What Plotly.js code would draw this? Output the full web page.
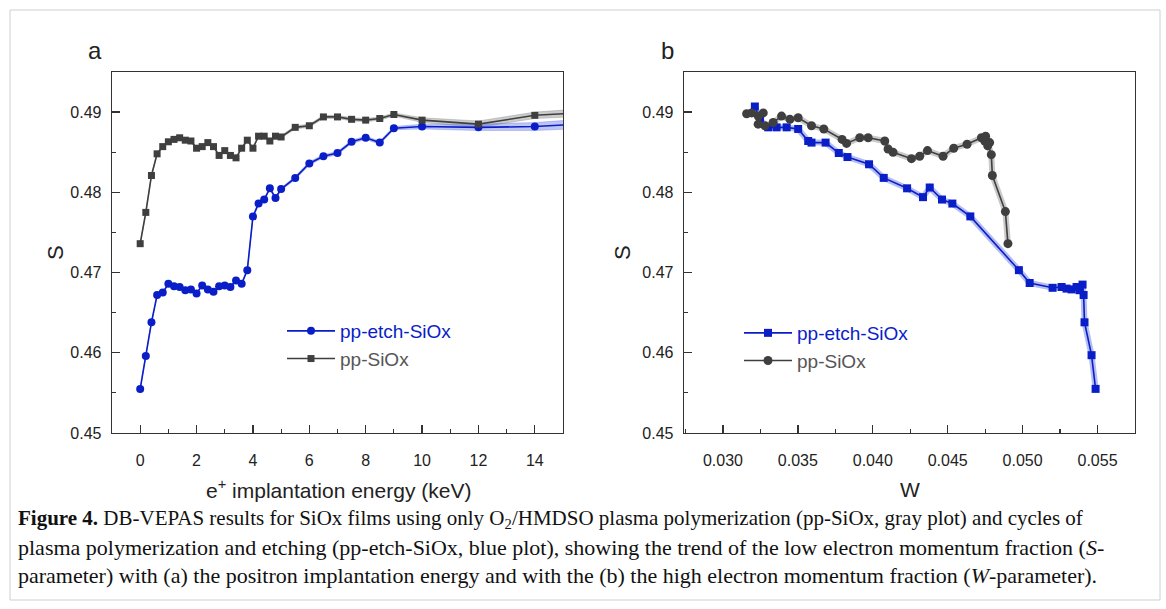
<!DOCTYPE html>
<html><head><meta charset="utf-8">
<script src="https://cdn.plot.ly/plotly-3.0.1.min.js"></script>
<style>html,body{margin:0;padding:0;background:#fff;} #chart{width:1166px;height:609px;}</style>
</head><body><div id="chart"></div>
<script>
// ---------- Panel a: S vs positron implantation energy ----------
const energy = [0,0.2,0.4,0.6,0.8,1.0,1.2,1.4,1.6,1.8,2.0,2.2,2.4,2.6,2.8,3.0,3.2,3.4,3.6,3.8,4.0,4.2,4.4,4.6,4.8,5.0,5.5,6,6.5,7,7.5,8,8.5,9,10,12,14,16];
const S_etch_a = [0.4555,0.4596,0.4638,0.4672,0.4675,0.4686,0.4683,0.4682,0.4678,0.4679,0.4674,0.4684,0.4679,0.4676,0.4683,0.4684,0.4682,0.4690,0.4686,0.4703,0.4770,0.4786,0.4791,0.4805,0.4793,0.4804,0.4818,0.4836,0.4845,0.4849,0.4863,0.4868,0.4862,0.4880,0.4882,0.4881,0.4882,0.4886];
const err_etch_a = [0.0001,0.0001,0.0001,0.0001,0.0001,0.0001,0.0001,0.0001,0.0001,0.0001,0.0001,0.0001,0.0001,0.0001,0.0001,0.0001,0.0001,0.0001,0.0001,0.0001,0.00015,0.00015,0.00015,0.00015,0.00015,0.00015,0.0002,0.0002,0.0002,0.0002,0.0002,0.0002,0.0002,0.0002,0.0003,0.0004,0.0005,0.0006];
const S_pp_a = [0.4736,0.4775,0.4821,0.4848,0.4857,0.4863,0.4866,0.4868,0.4865,0.4864,0.4855,0.4857,0.4862,0.4857,0.4846,0.4852,0.4846,0.4843,0.4855,0.4865,0.4855,0.4870,0.4870,0.4864,0.4870,0.4869,0.4881,0.4883,0.4894,0.4894,0.4891,0.4890,0.4892,0.4897,0.4890,0.4885,0.4896,0.4900];
const err_pp_a = [0.0001,0.0001,0.0001,0.0001,0.0001,0.0001,0.0001,0.0001,0.0001,0.0001,0.0001,0.0001,0.0001,0.0001,0.0001,0.0001,0.0001,0.0001,0.0001,0.0001,0.0001,0.0001,0.0001,0.00015,0.00015,0.00015,0.0002,0.0002,0.0002,0.0002,0.0002,0.0002,0.0002,0.0002,0.0003,0.0004,0.0004,0.0005];

// ---------- Panel b: S vs W ----------
const W_etch = [0.03213,0.03247,0.03302,0.03358,0.03425,0.03502,0.03569,0.03591,0.03685,0.03773,0.03831,0.03975,0.04073,0.04229,0.04335,0.04380,0.04462,0.04531,0.04651,0.04975,0.05047,0.05200,0.05260,0.05293,0.05327,0.05360,0.05380,0.05400,0.05407,0.05413,0.05460,0.05487];
const S_etch_b = [0.4907,0.4891,0.4881,0.4881,0.4881,0.4879,0.4864,0.4862,0.4862,0.4849,0.4844,0.4835,0.4818,0.4805,0.4794,0.4806,0.4791,0.4786,0.4770,0.4703,0.4687,0.4681,0.4682,0.4680,0.4679,0.4682,0.4678,0.4685,0.4672,0.4638,0.4597,0.4555];
const W_pp = [0.03158,0.03191,0.03235,0.03269,0.03235,0.03280,0.03335,0.03391,0.03447,0.03502,0.03591,0.03673,0.03795,0.03825,0.03913,0.03969,0.04080,0.04102,0.04135,0.04258,0.04313,0.04365,0.04469,0.04540,0.04629,0.04725,0.04747,0.04767,0.04780,0.04753,0.04791,0.04798,0.04885,0.04902];
const S_pp_b = [0.4898,0.4899,0.4895,0.4899,0.4885,0.4883,0.4887,0.4895,0.4891,0.4893,0.4883,0.4879,0.4866,0.4861,0.4868,0.4868,0.4864,0.4854,0.4850,0.4842,0.4845,0.4852,0.4845,0.4855,0.4860,0.4868,0.4864,0.4858,0.4862,0.4870,0.4847,0.4821,0.4776,0.4736];

const xTicksA = [0,2,4,6,8,10,12,14];
const xTickLabelsA = ['0','2','4','6','8','10','12','14'];
const xTicksB = [0.030,0.035,0.040,0.045,0.050,0.055];
const xTickLabelsB = ['0.030','0.035','0.040','0.045','0.050','0.055'];
const yTicks = [0.45,0.46,0.47,0.48,0.49];
const yTickLabels = ['0.45','0.46','0.47','0.48','0.49'];

const nameEtch = 'pp-etch-SiOx';
const namePp = 'pp-SiOx';

// ---------- styles ----------
const BLUE = '#0a1ec8';
const GRAY = '#3f3f3f';
const BLUE_BAND = 'rgba(70,90,225,0.35)';
const GRAY_BAND = 'rgba(110,110,110,0.35)';
const FONT = 'Liberation Sans, Arial, sans-serif';
const SERIF = 'Liberation Serif, Times New Roman, serif';
const W_FIG = 1166, H_FIG = 609;
const px = v => v / W_FIG;
const py = v => 1 - v / H_FIG;

function band(x, y, e, xa, ya, color) {
  const up = y.map((v, i) => v + e[i]);
  const lo = y.map((v, i) => v - e[i]);
  return {
    x: x.concat(x.slice().reverse()), y: up.concat(lo.reverse()),
    xaxis: xa, yaxis: ya, type: 'scatter', mode: 'lines', fill: 'toself',
    fillcolor: color, line: {color: color, width: 0.8}, hoverinfo: 'skip', showlegend: false
  };
}

const traces = [
  band(energy, S_pp_a, err_pp_a, 'x', 'y', GRAY_BAND),
  band(energy, S_etch_a, err_etch_a, 'x', 'y', BLUE_BAND),
  {x: W_pp, y: S_pp_b, xaxis: 'x2', yaxis: 'y2', type: 'scatter', mode: 'lines',
   line: {color: 'rgba(120,120,120,0.4)', width: 6}, hoverinfo: 'skip', showlegend: false},
  {x: W_etch, y: S_etch_b, xaxis: 'x2', yaxis: 'y2', type: 'scatter', mode: 'lines',
   line: {color: 'rgba(70,90,225,0.4)', width: 6}, hoverinfo: 'skip', showlegend: false},
  {x: energy, y: S_etch_a, xaxis: 'x', yaxis: 'y', type: 'scatter', mode: 'lines+markers',
   name: '<span style="color:' + BLUE + '">' + nameEtch + '</span>',
   line: {color: BLUE, width: 1.6}, marker: {symbol: 'circle', size: 8, color: BLUE}, legend: 'legend'},
  {x: energy, y: S_pp_a, xaxis: 'x', yaxis: 'y', type: 'scatter', mode: 'lines+markers',
   name: '<span style="color:#555">' + namePp + '</span>',
   line: {color: GRAY, width: 1.6}, marker: {symbol: 'square', size: 7, color: GRAY}, legend: 'legend'},
  {x: W_etch, y: S_etch_b, xaxis: 'x2', yaxis: 'y2', type: 'scatter', mode: 'lines+markers',
   name: '<span style="color:' + BLUE + '">' + nameEtch + '</span>',
   line: {color: BLUE, width: 1.6}, marker: {symbol: 'square', size: 8, color: BLUE}, legend: 'legend2'},
  {x: W_pp, y: S_pp_b, xaxis: 'x2', yaxis: 'y2', type: 'scatter', mode: 'lines+markers',
   name: '<span style="color:#555">' + namePp + '</span>',
   line: {color: GRAY, width: 1.6}, marker: {symbol: 'circle', size: 9, color: GRAY}, legend: 'legend2'}
];

const axisCommon = {
  showline: true, linecolor: '#333', linewidth: 1.3, mirror: true,
  ticks: 'inside', ticklen: 8, tickwidth: 1.3, tickcolor: '#333',
  showgrid: false, zeroline: false,
  tickfont: {family: FONT, size: 16, color: '#222'}, ticklabelstandoff: 6
};
const minorTick = {ticks: 'inside', ticklen: 4, tickcolor: '#333', tickwidth: 1.2};

function ann(text, x, y, size, extra) {
  return Object.assign({text: text, x: px(x), y: py(y), xref: 'paper', yref: 'paper',
    xanchor: 'center', yanchor: 'middle', showarrow: false,
    font: {family: FONT, size: size, color: '#222'}}, extra || {});
}
function cap(text, y, size) {
  return {text: text, x: px(16), y: py(y), xref: 'paper', yref: 'paper', xanchor: 'left', yanchor: 'middle',
    showarrow: false, align: 'left', font: {family: SERIF, size: size, color: '#111'}};
}

const layout = {
  width: W_FIG, height: H_FIG,
  margin: {l: 0, r: 0, t: 0, b: 0},
  paper_bgcolor: '#fff', plot_bgcolor: '#fff',
  font: {family: FONT},
  showlegend: true,
  xaxis: Object.assign({}, axisCommon, {domain: [px(112), px(563)], range: [-1, 15],
    tickvals: xTicksA, ticktext: xTickLabelsA, anchor: 'y', ticklabelstandoff: 12,
    minor: Object.assign({dtick: 1, tick0: 0}, minorTick)}),
  yaxis: Object.assign({}, axisCommon, {domain: [py(433), py(72)], range: [0.45, 0.495],
    tickvals: yTicks, ticktext: yTickLabels, anchor: 'x',
    minor: Object.assign({dtick: 0.005, tick0: 0.45}, minorTick)}),
  xaxis2: Object.assign({}, axisCommon, {domain: [px(684), px(1135)], range: [0.0274, 0.0575],
    tickvals: xTicksB, ticktext: xTickLabelsB, anchor: 'y2', ticklabelstandoff: 12,
    minor: Object.assign({dtick: 0.0025, tick0: 0.03}, minorTick)}),
  yaxis2: Object.assign({}, axisCommon, {domain: [py(433), py(72)], range: [0.45, 0.495],
    tickvals: yTicks, ticktext: yTickLabels, anchor: 'x2',
    minor: Object.assign({dtick: 0.005, tick0: 0.45}, minorTick)}),
  legend: {x: px(282), y: py(312), xanchor: 'left', yanchor: 'top', bgcolor: 'rgba(0,0,0,0)',
    font: {family: FONT, size: 19}, itemwidth: 48, tracegroupgap: 0, traceorder: 'normal'},
  legend2: {x: px(739), y: py(314), xanchor: 'left', yanchor: 'top', bgcolor: 'rgba(0,0,0,0)',
    font: {family: FONT, size: 19}, itemwidth: 48, tracegroupgap: 0, traceorder: 'normal'},
  shapes: [
    {type: 'rect', xref: 'paper', yref: 'paper', x0: px(10), x1: px(1160), y0: py(600), y1: py(10),
     line: {color: '#cfcfcf', width: 1}, fillcolor: 'rgba(0,0,0,0)', layer: 'below'}
  ],
  annotations: [
    ann('a', 95, 50, 24),
    ann('b', 667, 50, 24),
    ann('S', 55, 253, 22, {textangle: -90}),
    ann('S', 622, 253, 22, {textangle: -90}),
    ann('e<sup>+</sup> implantation energy (keV)', 338, 489, 21),
    ann('W', 910, 489, 21),
    cap('<b>Figure 4.</b> DB-VEPAS results for SiOx films using only O<sub>2</sub>/HMDSO plasma polymerization (pp-SiOx, gray plot) and cycles of', 519, 21),
    cap('plasma polymerization and etching (pp-etch-SiOx, blue plot), showing the trend of the low electron momentum fraction (<i>S</i>-', 547, 22),
    cap('parameter) with (a) the positron implantation energy and with the (b) the high electron momentum fraction (<i>W</i>-parameter).', 575, 22)
  ]
};

Plotly.newPlot('chart', traces, layout, {staticPlot: true, displayModeBar: false});
</script>
</body></html>
